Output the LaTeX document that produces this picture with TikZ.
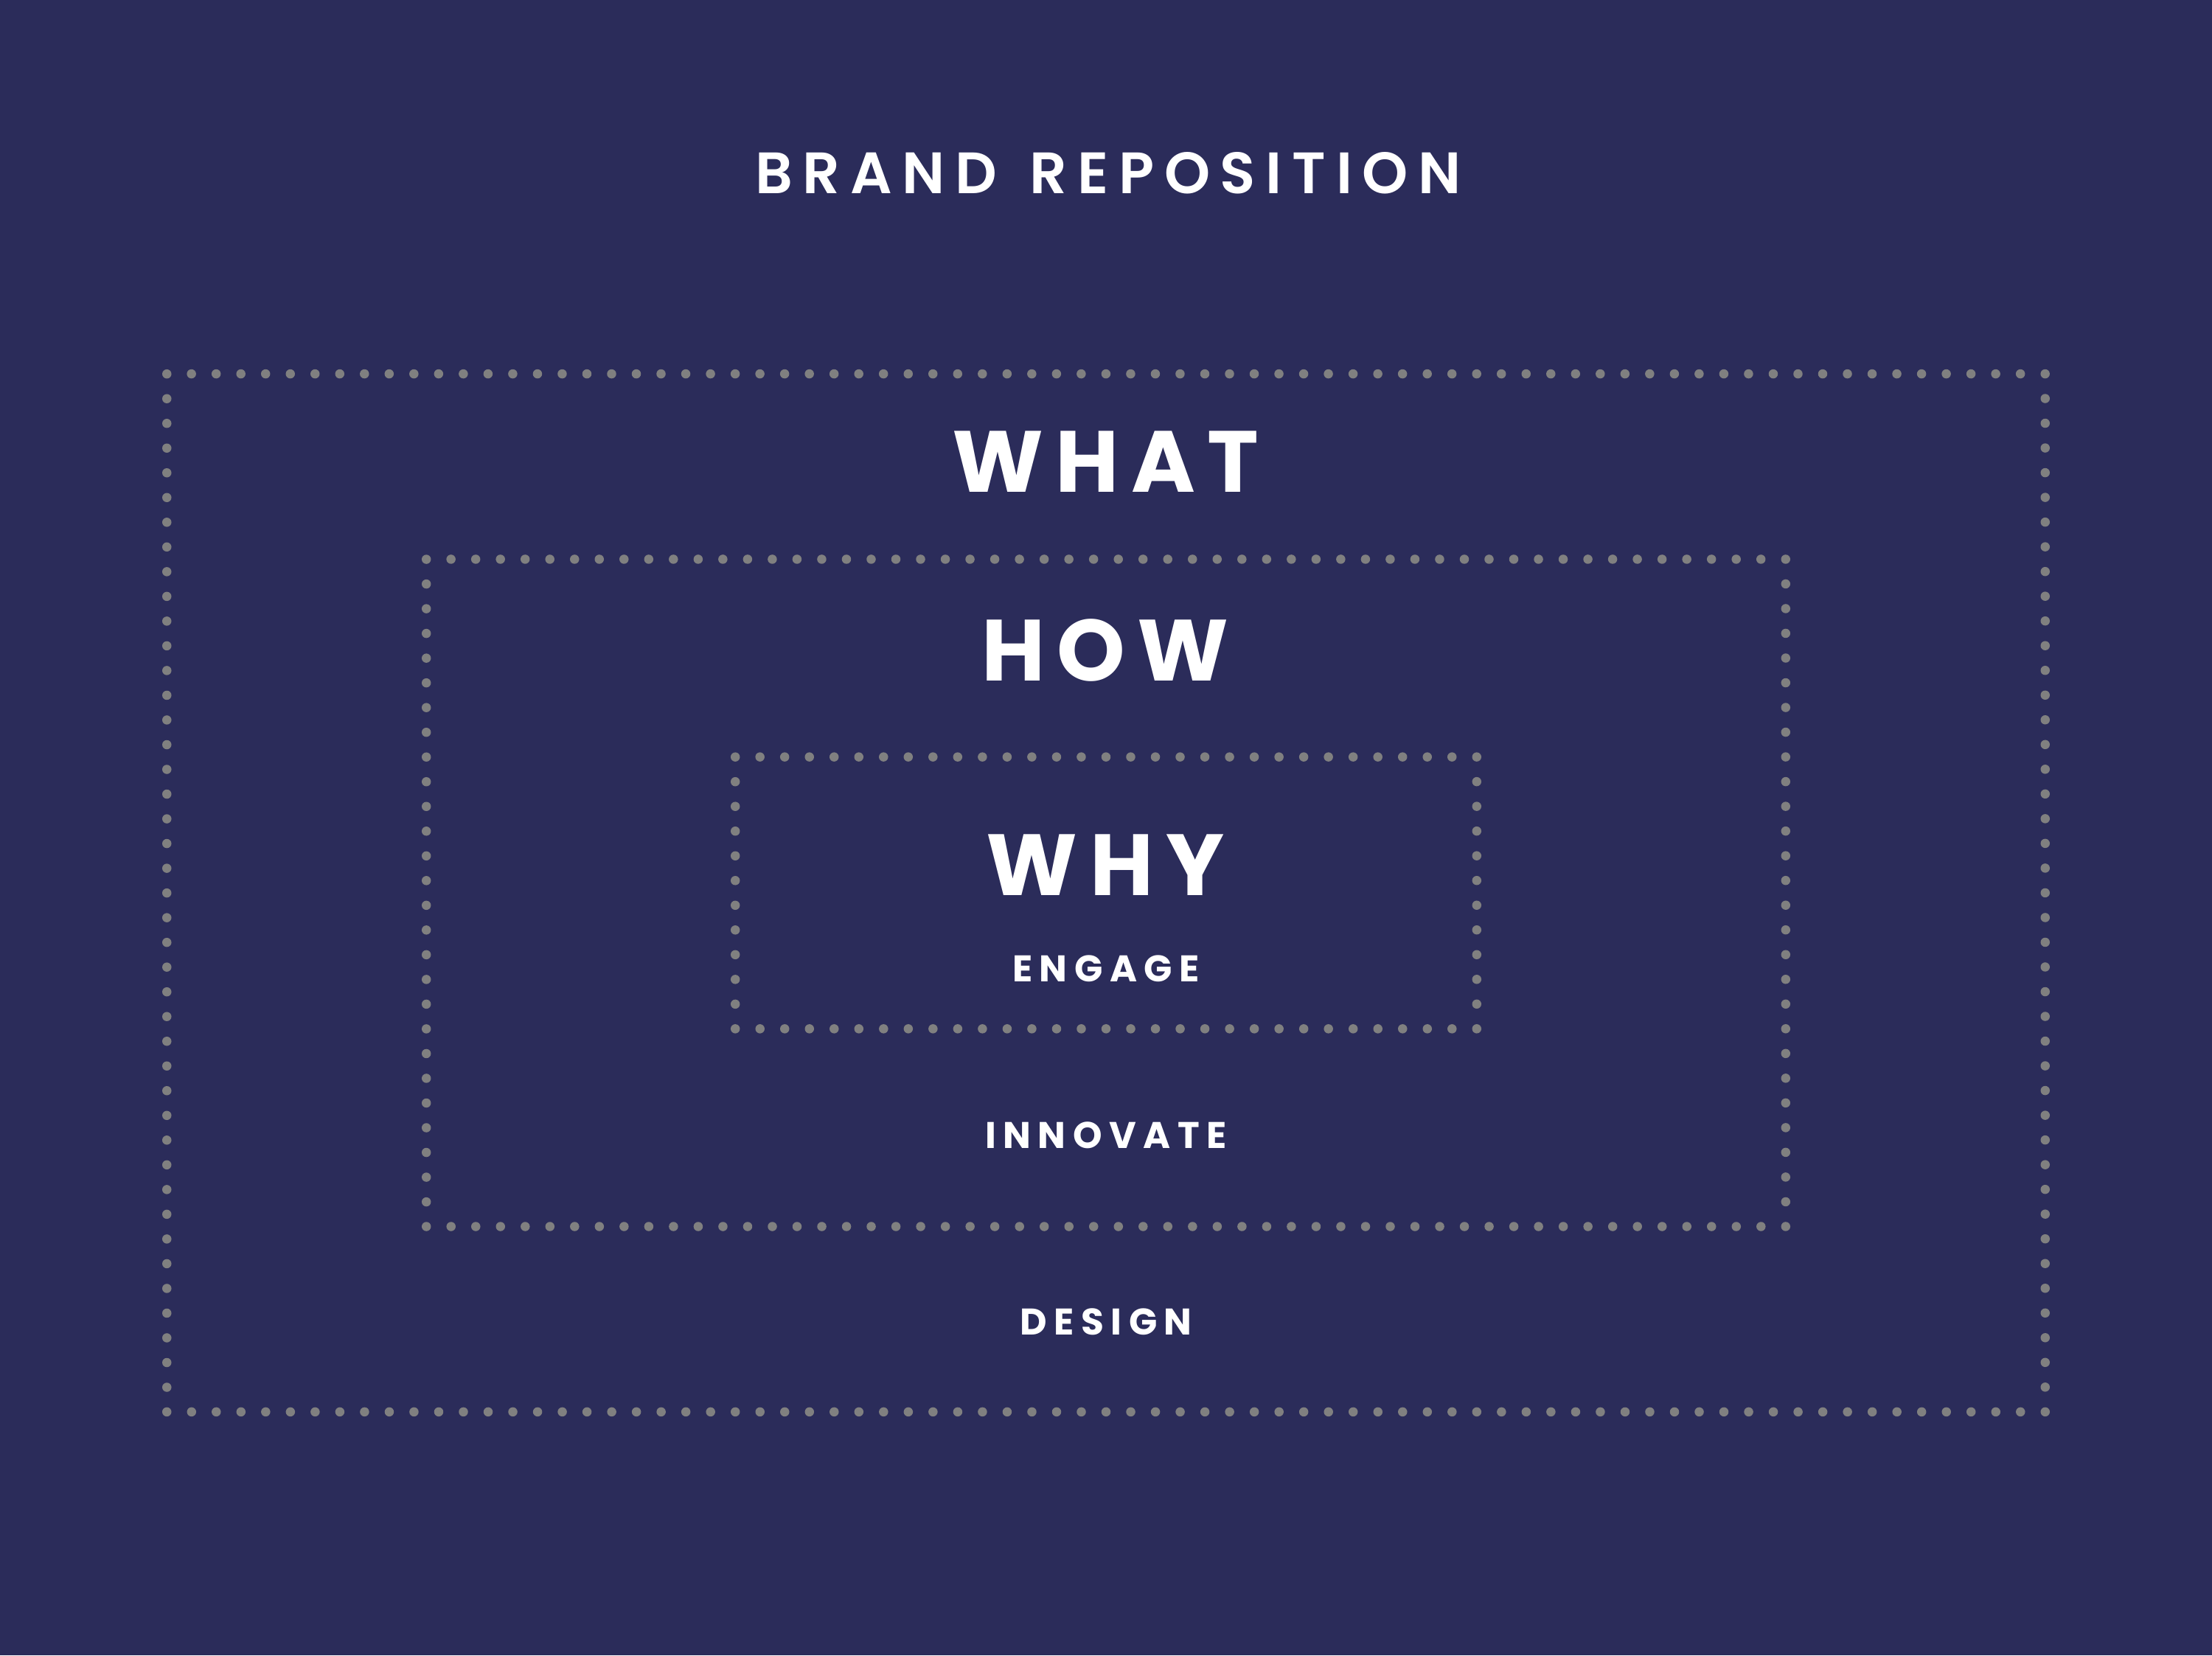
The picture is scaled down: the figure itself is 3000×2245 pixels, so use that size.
\documentclass[tikz,border=0pt]{standalone}
\usepackage{fontspec}
\setmainfont{Poppins}
\newfontfamily\brandfont{Poppins SemiBold}
\usetikzlibrary{positioning}

\definecolor{bgnavy}{RGB}{43,44,90}
\definecolor{dotgray}{RGB}{128,128,128}

\begin{document}
\begin{tikzpicture}[
    x=0.01cm, y=0.01cm,
    every node/.style={align=center, inner sep=0pt, text=white},
    dotbox/.style={rectangle, draw=dotgray, line width=0.125cm, line cap=round,
        dash pattern=on 0pt off 0.335cm},
    title/.style={font=\brandfont\fontsize{22.5}{27}\selectfont\addfontfeature{LetterSpace=17.4}},
    bigword/.style={font=\bfseries\fontsize{33.5}{40}\selectfont\addfontfeature{LetterSpace=14}},
    smallword/.style={font=\bfseries\fontsize{14.3}{17}\selectfont\addfontfeature{LetterSpace=19}}
]

% 背景
\fill[bgnavy] (0,0) rectangle (3000,2245);
\useasboundingbox (0,0) rectangle (3000,2245);

% 虚线框
\node[dotbox, minimum width=25.46cm, minimum height=14.07cm] (outerbox) at (1500,1034) {};
\node[dotbox, minimum width=18.425cm, minimum height=9.045cm] (midbox) at (1500,1034) {};
\node[dotbox, minimum width=10.05cm, minimum height=3.685cm] (innerbox) at (1500,1034) {};

% 标题
\node[title] (brand) at (1503,2010) {BRAND\hspace{0.12cm} REPOSITION};

% 大字
\node[bigword] (what) at (1499,1619) {WHAT};
\node[bigword] (how) at (1499,1363) {HOW};
\node[bigword] (why) at (1499,1072) {WHY};

% 小字
\node[smallword] (engage) at (1500,931) {ENGAGE};
\node[smallword] (innovate) at (1500,705) {INNOVATE};
\node[smallword] (design) at (1500,452) {DESIGN};

\end{tikzpicture}
\end{document}
